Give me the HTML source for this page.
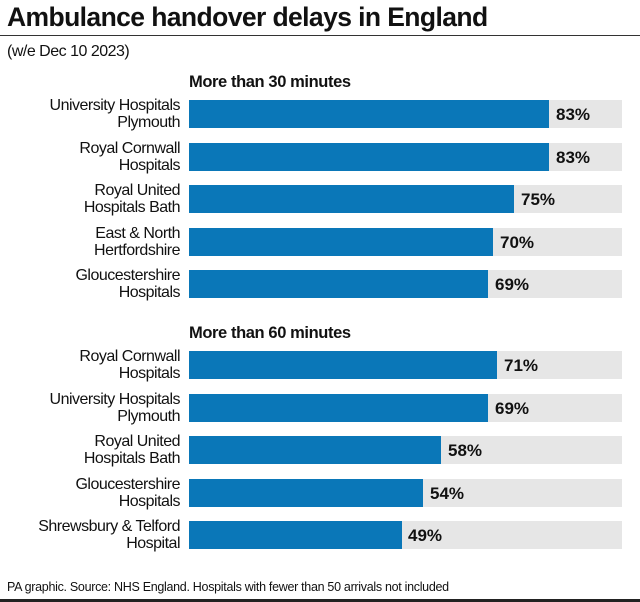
<!DOCTYPE html>
<html><head><style>
body{margin:0;width:640px;height:602px;background:#fff;font-family:"Liberation Sans",sans-serif;position:relative;overflow:hidden;color:#111}
.t{position:absolute;left:7px;top:2px;font-size:26.5px;font-weight:bold;letter-spacing:-0.6px}
.hr{position:absolute;left:0;width:640px;height:1px;background:#333}
.sub{position:absolute;left:7px;top:43px;font-size:16px;letter-spacing:-0.5px}
.h{position:absolute;left:189px;font-size:16.5px;font-weight:bold;letter-spacing:-0.4px}
.row{position:absolute;left:0;width:640px;height:28px}
.lab{position:absolute;right:460px;width:200px;text-align:right;font-size:16px;line-height:17px;top:-3px;letter-spacing:-0.5px}
.bg{position:absolute;left:189px;width:433px;height:28px;background:#e6e6e6}
.bar{position:absolute;left:189px;height:28px;background:#0a77b8}
.v{position:absolute;font-size:17px;font-weight:bold;top:5px}
.f{position:absolute;left:7px;top:580px;font-size:12.5px;letter-spacing:-0.3px}
</style></head><body>
<div class="t">Ambulance handover delays in England</div>
<div class="hr" style="top:35px"></div>
<div class="sub">(w/e Dec 10 2023)</div>
<div class="h" style="top:73px">More than 30 minutes</div>
<div class="row" style="top:100px"><div class="lab">University Hospitals<br>Plymouth</div><div class="bg"></div><div class="bar" style="width:360px"></div><div class="v" style="left:556px">83%</div></div>
<div class="row" style="top:143px"><div class="lab">Royal Cornwall<br>Hospitals</div><div class="bg"></div><div class="bar" style="width:360px"></div><div class="v" style="left:556px">83%</div></div>
<div class="row" style="top:185px"><div class="lab">Royal United<br>Hospitals Bath</div><div class="bg"></div><div class="bar" style="width:325px"></div><div class="v" style="left:521px">75%</div></div>
<div class="row" style="top:228px"><div class="lab">East &amp; North<br>Hertfordshire</div><div class="bg"></div><div class="bar" style="width:304px"></div><div class="v" style="left:500px">70%</div></div>
<div class="row" style="top:270px"><div class="lab">Gloucestershire<br>Hospitals</div><div class="bg"></div><div class="bar" style="width:299px"></div><div class="v" style="left:495px">69%</div></div>
<div class="h" style="top:324px">More than 60 minutes</div>
<div class="row" style="top:351px"><div class="lab">Royal Cornwall<br>Hospitals</div><div class="bg"></div><div class="bar" style="width:308px"></div><div class="v" style="left:504px">71%</div></div>
<div class="row" style="top:394px"><div class="lab">University Hospitals<br>Plymouth</div><div class="bg"></div><div class="bar" style="width:299px"></div><div class="v" style="left:495px">69%</div></div>
<div class="row" style="top:436px"><div class="lab">Royal United<br>Hospitals Bath</div><div class="bg"></div><div class="bar" style="width:252px"></div><div class="v" style="left:448px">58%</div></div>
<div class="row" style="top:479px"><div class="lab">Gloucestershire<br>Hospitals</div><div class="bg"></div><div class="bar" style="width:234px"></div><div class="v" style="left:430px">54%</div></div>
<div class="row" style="top:521px"><div class="lab">Shrewsbury &amp; Telford<br>Hospital</div><div class="bg"></div><div class="bar" style="width:213px"></div><div class="v" style="left:408px">49%</div></div>
<div class="f">PA graphic. Source: NHS England. Hospitals with fewer than 50 arrivals not included</div>
<div class="hr" style="top:599px;height:3px;background:#222"></div>
</body></html>
